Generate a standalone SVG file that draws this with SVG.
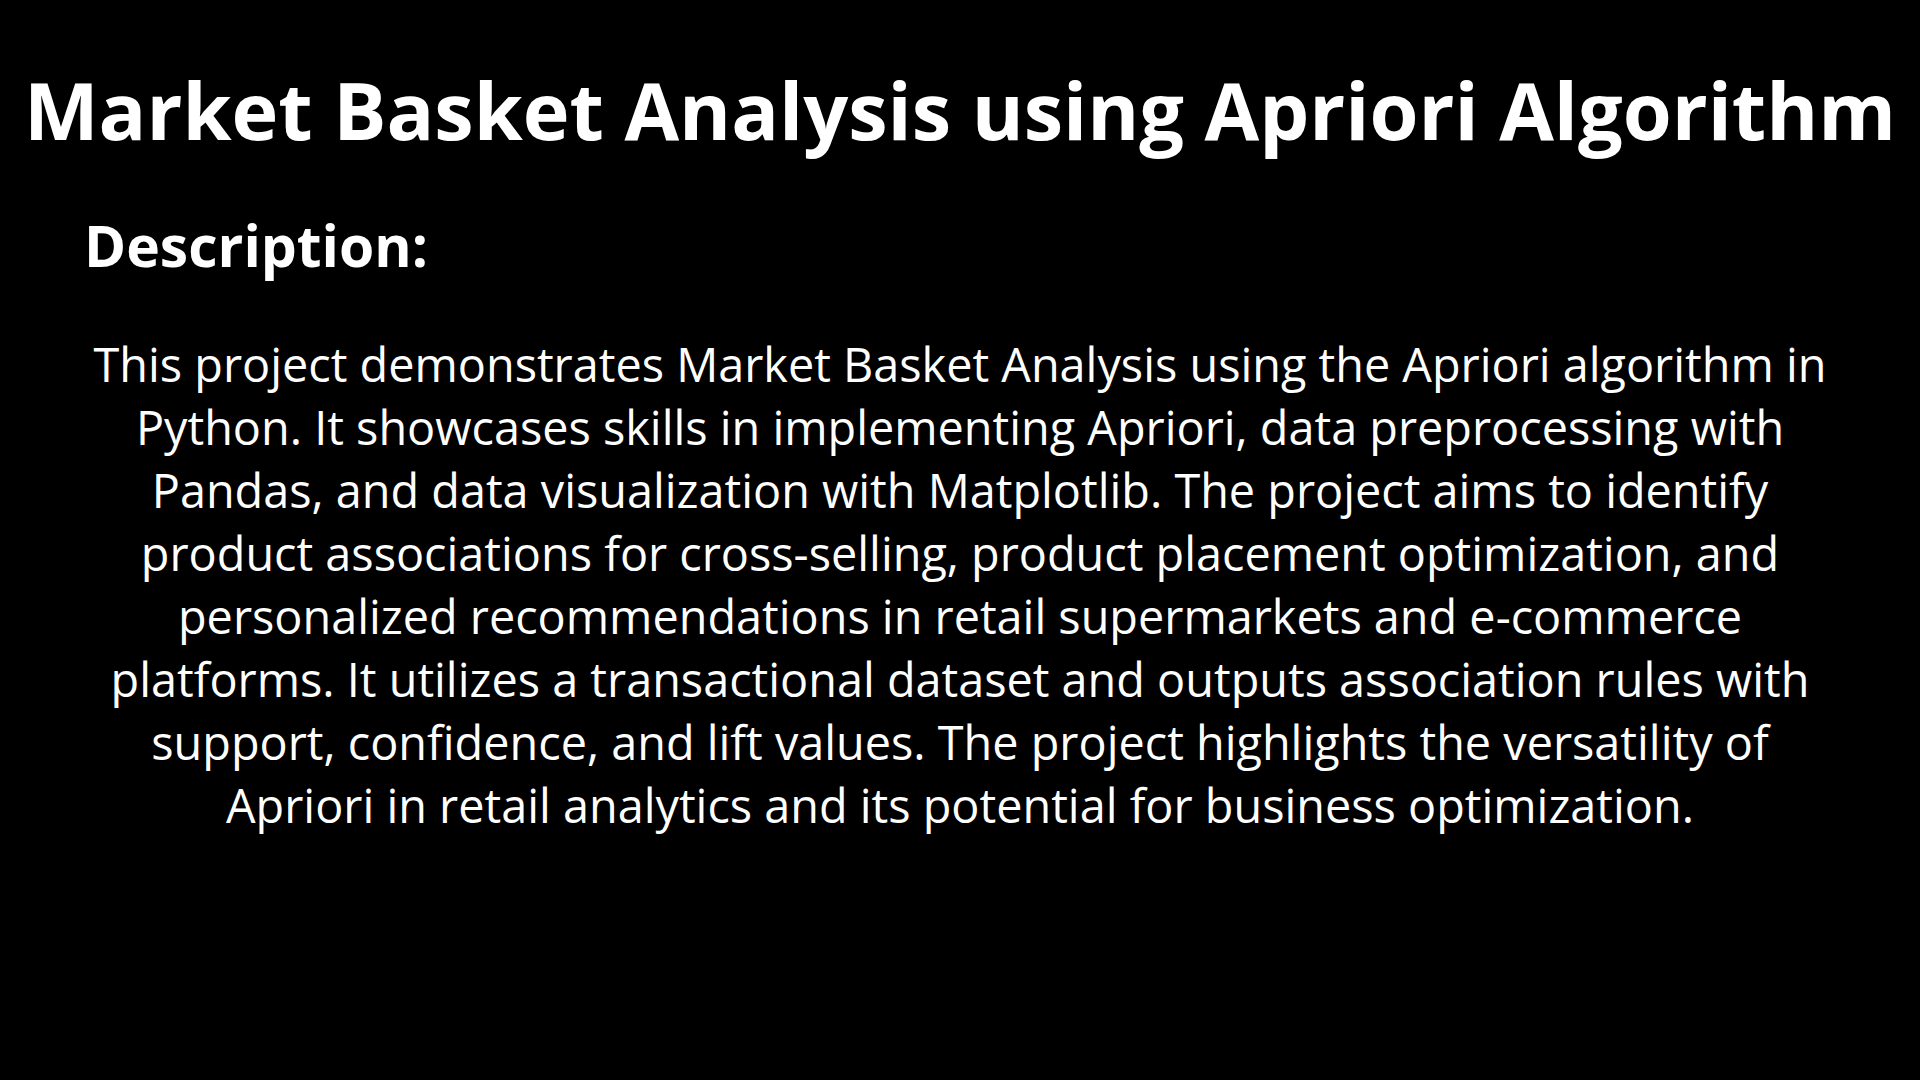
<svg xmlns="http://www.w3.org/2000/svg" width="1920" height="1080" viewBox="0 0 1920 1080">
<style>
.t{font-family:"Open Sans","Noto Sans",sans-serif;fill:#fff}
.h{font-weight:700}
.b{font-size:46.8px;text-anchor:middle}
</style>
<rect width="1920" height="1080" fill="#000"/>
<text id="title" class="t h" x="960" y="140" font-size="79.2" text-anchor="middle">Market Basket Analysis using Apriori Algorithm</text>
<text id="desc" class="t h" x="84" y="267" font-size="57">Description:</text>
<g id="body">
<text class="t b" x="960" y="382">This project demonstrates Market Basket Analysis using the Apriori algorithm in</text>
<text class="t b" x="960" y="445">Python. It showcases skills in implementing Apriori, data preprocessing with</text>
<text class="t b" x="960" y="508">Pandas, and data visualization with Matplotlib. The project aims to identify</text>
<text class="t b" x="960" y="571">product associations for cross-selling, product placement optimization, and</text>
<text class="t b" x="960" y="634">personalized recommendations in retail supermarkets and e-commerce</text>
<text class="t b" x="960" y="697">platforms. It utilizes a transactional dataset and outputs association rules with</text>
<text class="t b" x="960" y="760">support, confidence, and lift values. The project highlights the versatility of</text>
<text class="t b" x="960" y="823">Apriori in retail analytics and its potential for business optimization.</text>
</g>
</svg>
